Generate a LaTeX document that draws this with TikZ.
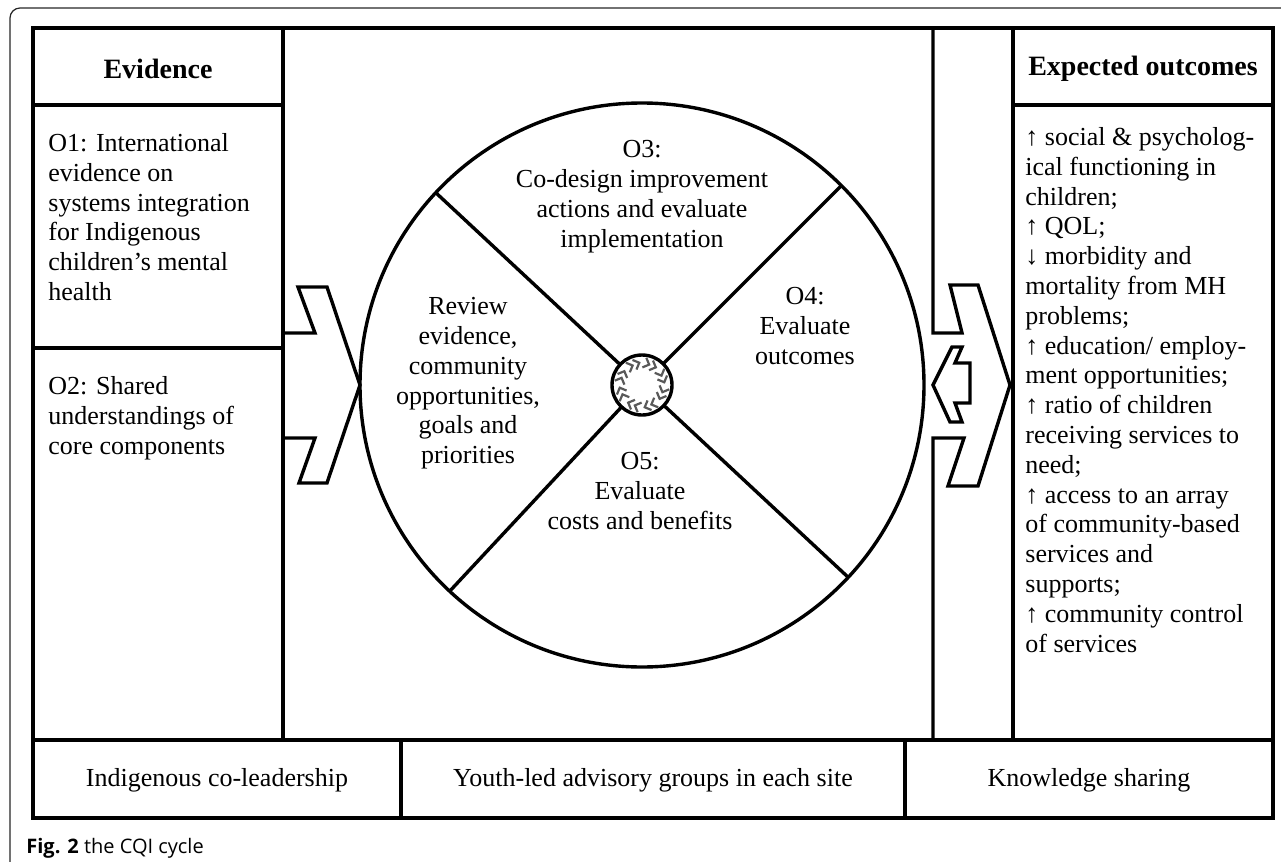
\documentclass[tikz,border=0pt]{standalone}
\usepackage{fontspec}
\setmainfont{Liberation Serif}
\newfontfamily\capfont{Open Sans}
\begin{document}
\begin{tikzpicture}[x=0.5pt,y=-0.5pt,
  frame/.style={line width=0.6pt, black!85},
  box/.style={line width=1.7pt, line join=miter},
  txt/.style={font=\fontsize{13}{14.9}\selectfont, inner sep=0pt},
  hdr/.style={font=\fontsize{14}{16}\selectfont\bfseries, inner sep=0pt},
  chev/.style={draw=black!65, line width=1.1pt},
  dchev/.pic={\draw[chev] (-3.2,2.6) -- (-0.6,0) -- (-3.2,-2.6);
              \draw[chev] (0.4,2.6) -- (3,0) -- (0.4,-2.6);}]
\useasboundingbox (0,0) rectangle (1281,862);
% outer frame (cut by the page)
\draw[frame, rounded corners=5pt] (10,862) -- (10,8) -- (1281,8);
% main boxes
\draw[box] (33,28) rectangle (1273,818);
\draw[box] (33,105) -- (283,105);
\draw[box] (33,348) -- (283,348);
\draw[box] (283,28) -- (283,740);
\draw[box] (33,740) -- (1273,740);
\draw[box] (401,740) -- (401,818);
\draw[box] (905,740) -- (905,818);
\draw[box] (1013,28) -- (1013,740);
\draw[box] (1013,105) -- (1273,105);
% left chevron
\draw[box] (283,333) -- (315,333) -- (298,287) -- (327,287) -- (360,385) -- (327,483) -- (299,483) -- (315,438) -- (283,438);
% right chevron with bar
\draw[box] (933,28) -- (933,333) -- (962,333) -- (950,285) -- (978,285) -- (1010,385) -- (978,486) -- (948,486) -- (964,438) -- (933,438) -- (933,740);
% small back arrow
\draw[box] (933,385) -- (952,347) -- (962,347) -- (955,363) -- (970,363) -- (970,403) -- (955,403) -- (962,422) -- (950,422) -- cycle;
% cycle
\node[circle, draw, box, minimum size=282pt, inner sep=0pt, outer sep=0pt] (cycle) at (642,385) {};
\node[circle, draw, box, minimum size=30pt, inner sep=0pt, outer sep=0pt] (hub) at (642,385) {};
\foreach \a in {45,137,227,317} \draw[box] (hub.\a) -- (cycle.\a);
\begin{scope}[shift={(hub.center)}, x=1pt, y=1pt]
  \foreach \a in {112.5,67.5,22.5,-22.5,-67.5,-112.5,-157.5,157.5}
    \pic[rotate=\a-90] at (\a:10.8) {dchev};
\end{scope}
% headers
\node[hdr] (evh) at (158,69) {Evidence};
\node[hdr] (eoh) at (1143,69) {Expected outcomes};
% left column
\node[txt, anchor=north west, align=left] (o1) at (48,133) {O1: International\\evidence on\\systems integration\\for Indigenous\\children’s mental\\health};
\node[txt, anchor=north west, align=left] (o2) at (48,376) {O2: Shared\\understandings of\\core components};
% right column
\node[txt, anchor=north west, align=left] (out) at (1025,127) {↑ social \& psycholog-\\ical functioning in\\children;\\↑ QOL;\\↓ morbidity and\\mortality from MH\\problems;\\↑ education/ employ-\\ment opportunities;\\↑ ratio of children\\receiving services to\\need;\\↑ access to an array\\of community-based\\services and\\supports;\\↑ community control\\of services};
% cycle texts
\node[txt, anchor=north, align=center] (o3) at (642,140) {O3:\\Co-design improvement\\actions and evaluate\\implementation};
\node[txt, anchor=north, align=center] (o4) at (805,287) {O4:\\Evaluate\\outcomes};
\node[txt, anchor=north, align=center] (rev) at (468,297) {Review\\evidence,\\community\\opportunities,\\goals and\\priorities};
\node[txt, anchor=north, align=center] (o5) at (640,452) {O5:\\Evaluate\\costs and benefits};
% bottom boxes
\node[txt] (b1) at (217,780) {Indigenous co-leadership};
\node[txt] (b2) at (653,780) {Youth-led advisory groups in each site};
\node[txt] (b3) at (1089,780) {Knowledge sharing};
% caption
\node[anchor=base west, inner sep=0pt, font=\capfont\fontsize{10}{12}\selectfont] (cap) at (26,853) {\textbf{Fig. 2} the CQI cycle};
\end{tikzpicture}
\end{document}
